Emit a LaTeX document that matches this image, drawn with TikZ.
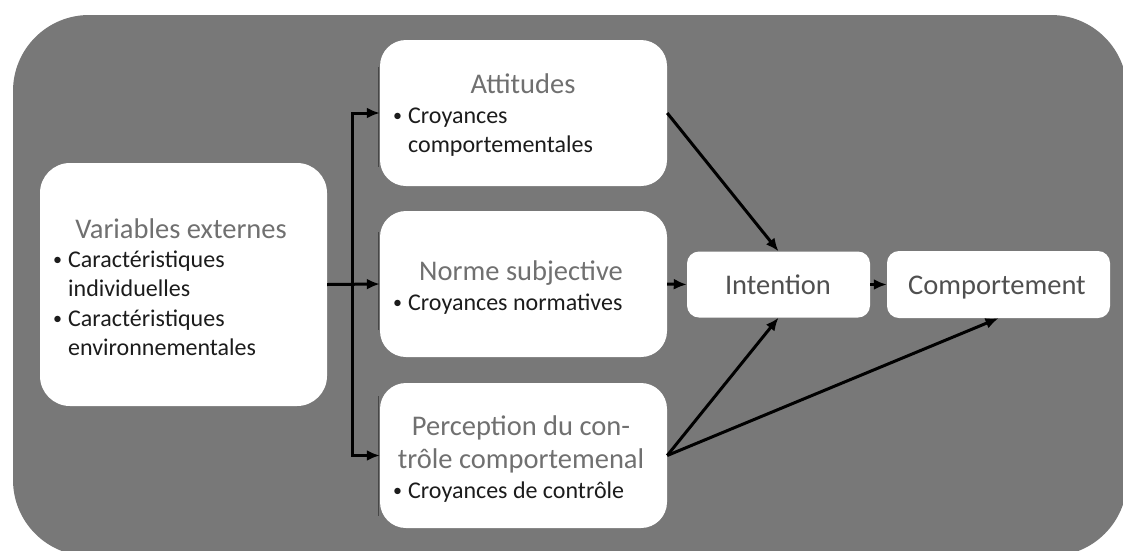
\documentclass[tikz,border=0pt]{standalone}
\usepackage{fontspec}
\setmainfont{Carlito}
\usetikzlibrary{arrows.meta}

\definecolor{panel}{RGB}{120,120,120}
\definecolor{headgray}{RGB}{112,112,112}
\definecolor{headdark}{RGB}{80,80,80}
\definecolor{ink}{RGB}{28,28,28}
\definecolor{edge}{RGB}{70,70,70}

\tikzset{
  card/.style={fill=white, rounded corners=#1, inner sep=0pt, draw=none},
  head/.style={text=headgray, inner sep=0pt, anchor=base, font=\fontsize{28.5}{33}\selectfont},
  headdk/.style={text=headdark, inner sep=0pt, anchor=base, font=\fontsize{28.5}{33}\selectfont},
  items/.style={text=ink, inner sep=0pt, anchor=base west, font=\fontsize{24}{29.5}\selectfont},
  link/.style={draw=black, line width=3pt, -{Latex[length=13pt,width=11pt]}},
  rim/.style={draw=edge, line width=0.9pt}
}

\newcommand{\bul}{\makebox[17pt][l]{\hspace{2pt}\raisebox{2pt}{\fontsize{18}{18}\selectfont •}}}

\begin{document}
\begin{tikzpicture}[x=1pt,y=-1pt]
  \useasboundingbox (0,0) rectangle (1123,550);

  % grey panel behind everything
  \fill[panel, rounded corners=76pt] (13,15) rectangle (1127,556);

  % boxes
  \node[card=30pt, minimum width=287pt, minimum height=243pt] (var)  at (183.5,284.5) {};
  \node[card=26pt, minimum width=287pt, minimum height=146pt] (att)  at (523.5,113) {};
  \node[card=26pt, minimum width=287pt, minimum height=146pt] (norm) at (523.5,284) {};
  \node[card=26pt, minimum width=287pt, minimum height=145pt] (perc) at (523.5,455.5) {};
  \node[card=12pt, minimum width=183pt, minimum height=66pt]  (int)  at (778.5,284.5) {};
  \node[card=12pt, minimum width=223pt, minimum height=67pt]  (comp) at (998.5,284.5) {};

  % thin left rims of the middle boxes
  \draw[rim] (378,67) -- (378,167);
  \draw[rim] (378,232) -- (378,330);
  \draw[rim] (378,396) -- (378,516);

  % texts
  \node[head] (varh) at (181,238) {Variables externes};
  \node[items] (vari) at (51,267) {\begin{tabular}[t]{@{}l@{}l@{}}
    \bul & Caractéristiques\\
         & individuelles\\
    \bul & Caractéristiques\\
         & environnementales
  \end{tabular}};

  \node[head] (atth) at (523,93) {Attitudes};
  \node[items] (atti) at (391,123) {\begin{tabular}[t]{@{}l@{}l@{}}
    \bul & Croyances\\
         & comportementales
  \end{tabular}};

  \node[head] (normh) at (521,280) {Norme subjective};
  \node[items] (normi) at (391,310) {\begin{tabular}[t]{@{}l@{}l@{}}
    \bul & Croyances normatives
  \end{tabular}};

  \node[head] (perch) at (521,435) {\begin{tabular}[t]{@{}c@{}}Perception du con-\\trôle comportemenal\end{tabular}};
  \node[items] (perci) at (391,498) {\begin{tabular}[t]{@{}l@{}l@{}}
    \bul & Croyances de contrôle
  \end{tabular}};

  \node[headdk] (inth)  at (778,294) {Intention};
  \node[headdk] (comph) at (997,294) {Comportement};

  % connectors
  \coordinate (split) at (352,284.5);
  \draw[link] (var.east) -- (norm.west);
  \draw[link] (split) |- (att.west);
  \draw[link] (split) |- (perc.west);
  \draw[link] (att.east) -- (int.north);
  \draw[link] (norm.east) -- (int.west);
  \draw[link] (int.east) -- (comp.west);
  \draw[link] (perc.east) -- (int.south);
  \draw[link] (perc.east) -- (comp.south);
\end{tikzpicture}
\end{document}
